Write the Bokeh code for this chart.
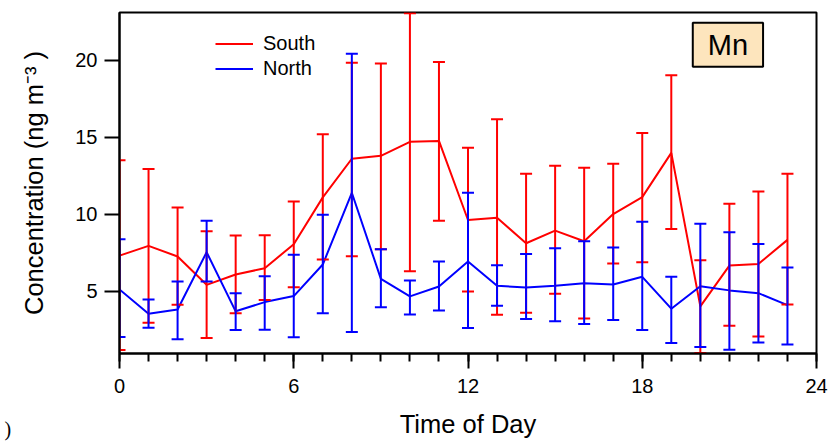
from bokeh.plotting import figure
from bokeh.models import (ColumnDataSource, Whisker, TeeHead, FixedTicker, Legend,
                          LegendItem, Label, Range1d, Title)
from bokeh.embed import file_html
from bokeh.resources import INLINE

hours = list(range(24))
south_mean = [7.31, 7.94, 7.25, 5.41, 6.08, 6.49, 8.05, 11.09, 13.60, 13.79, 14.70, 14.76,
              9.62, 9.77, 8.11, 8.93, 8.24, 10.01, 11.11, 13.98, 4.01, 6.66, 6.77, 8.33]
south_upper = [13.50, 12.93, 10.44, 8.89, 8.61, 8.63, 10.83, 15.19, 19.83, 19.79, 23.05, 19.88,
               14.31, 16.16, 12.62, 13.14, 13.01, 13.27, 15.28, 19.03, 7.01, 10.68, 11.48, 12.62]
south_lower = [1.18, 2.95, 4.12, 1.96, 3.56, 4.42, 5.26, 7.05, 7.27, 7.72, 6.30, 9.58,
               4.98, 3.47, 3.60, 4.83, 3.23, 6.79, 6.88, 9.04, 0.98, 2.76, 2.05, 4.14]
north_mean = [5.11, 3.53, 3.81, 7.53, 3.69, 4.29, 4.68, 6.73, 11.39, 5.80, 4.66, 5.30,
              6.92, 5.35, 5.24, 5.35, 5.52, 5.43, 5.93, 3.86, 5.32, 5.05, 4.87, 4.09]
north_upper = [8.37, 4.46, 5.63, 9.58, 4.87, 5.97, 7.36, 9.97, 20.42, 7.72, 5.69, 6.92,
               11.39, 6.69, 7.42, 7.79, 8.24, 7.83, 9.51, 5.93, 9.38, 8.82, 8.07, 6.53]
north_lower = [2.02, 2.63, 1.87, 5.63, 2.48, 2.50, 2.00, 3.56, 2.35, 3.96, 3.49, 3.75,
               2.60, 4.05, 3.19, 3.04, 2.86, 3.12, 2.47, 1.63, 1.37, 1.20, 1.66, 1.53]
x_ticks = [0, 6, 12, 18, 24]
y_ticks = [5, 10, 15, 20]

FONT = "Liberation Sans"
RED = "#ff0000"
BLUE = "#0000ff"

p = figure(width=829, height=441, output_backend="svg", toolbar_location=None,
           x_range=Range1d(0, 24), y_range=Range1d(0.95, 23.1),
           min_border_left=119, min_border_right=13, min_border_top=12, min_border_bottom=88)
p.xgrid.visible = False
p.ygrid.visible = False
p.outline_line_color = "black"
p.outline_line_width = 2
p.background_fill_color = "white"
p.border_fill_color = "white"

s_src = ColumnDataSource(dict(x=hours, m=south_mean, up=south_upper, lo=south_lower))
n_src = ColumnDataSource(dict(x=hours, m=north_mean, up=north_upper, lo=north_lower))

for src, col in ((s_src, RED), (n_src, BLUE)):
    w = Whisker(source=src, base="x", upper="up", lower="lo", line_color=col, line_width=2,
                upper_head=TeeHead(size=12, line_color=col, line_width=2),
                lower_head=TeeHead(size=12, line_color=col, line_width=2), level="glyph")
    p.add_layout(w)

r_s = p.line("x", "m", source=s_src, line_color=RED, line_width=2)
r_n = p.line("x", "m", source=n_src, line_color=BLUE, line_width=2)

# axes
p.xaxis.ticker = FixedTicker(ticks=x_ticks, minor_ticks=list(range(25)))
p.yaxis.ticker = FixedTicker(ticks=y_ticks, minor_ticks=[])
for ax in (p.xaxis[0], p.yaxis[0]):
    ax.axis_line_width = 2
    ax.major_tick_line_width = 2
    ax.minor_tick_line_width = 2
    ax.major_tick_out = 15
    ax.major_tick_in = 0
    ax.minor_tick_in = 0
    ax.major_label_text_font = FONT
    ax.major_label_text_font_size = "20px"
    ax.major_label_text_color = "black"
    ax.axis_label_text_font = FONT
    ax.axis_label_text_font_size = "25.5px"
    ax.axis_label_text_font_style = "normal"
    ax.axis_label_text_color = "black"
p.xaxis.minor_tick_out = 8
p.yaxis.minor_tick_out = 0
p.xaxis.major_label_standoff = 10
p.yaxis.major_label_standoff = 7
p.xaxis.axis_label = "Time of Day"
p.yaxis.axis_label = "Concentration (ng m\u207b\u00b3 )"
p.xaxis.axis_label_standoff = 14
p.yaxis.axis_label_standoff = 24

legend = Legend(items=[LegendItem(label="South", renderers=[r_s]),
                       LegendItem(label="North", renderers=[r_n])],
                location=(96, 272), padding=0, margin=0, spacing=0,
                glyph_width=38, glyph_height=25, label_height=25, label_standoff=10,
                label_text_font=FONT, label_text_font_size="20px", label_text_color="black",
                border_line_alpha=0, background_fill_alpha=0)
p.add_layout(legend)

mn = Label(x=20.95, y=21.0, text="Mn", text_align="center", text_baseline="middle",
           text_font=FONT, text_font_size="29px", text_color="black",
           background_fill_color="#fde5bd", border_line_color="black", border_line_width=2,
           padding=dict(left=15, right=15, top=6, bottom=6))
p.add_layout(mn)

paren = Title(text=")", align="left", offset=-115, standoff=-45, vertical_align="top",
              text_font="Liberation Serif", text_font_size="20px", text_font_style="normal",
              text_color="black")
p.add_layout(paren, "below")

open("out.html", "w").write(file_html(p, INLINE))
